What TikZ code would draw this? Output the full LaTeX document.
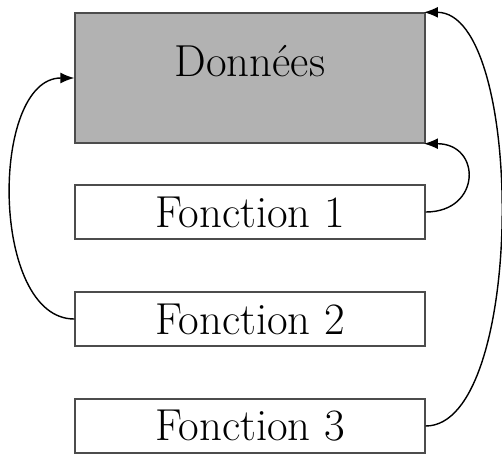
\documentclass[tikz,border=0pt]{standalone}
\usetikzlibrary{arrows.meta}

\begin{document}
\begin{tikzpicture}[
  box/.style={rectangle, draw=black!70, line width=0.8pt, minimum width=7cm, inner sep=0pt, font=\fontsize{25.5}{30}\selectfont},
  fn/.style={box, minimum height=1.08cm},
  donnees/.style={box, fill=black!30, minimum height=2.6cm, text depth=0.68cm},
  arrow/.style={-{Latex[length=2.8mm, width=2.2mm]}, line width=0.8pt},
]

\useasboundingbox (0,0) rectangle (10.04,-9.12);

% === Boxes ===
\node[donnees] (data) at (5, -1.56) {Données};
\node[fn] (f1) at (5, -4.24) {Fonction 1};
\node[fn] (f2) at (5, -6.38) {Fonction 2};
\node[fn] (f3) at (5, -8.52) {Fonction 3};

% === Return arrows ===
\draw[arrow, shorten >=-1pt] (f1.east) to[out=0, in=0, looseness=2.1] (data.south east);
\draw[arrow] (f2.west) to[out=180, in=180, looseness=0.9] (data.west);
\draw[arrow, shorten >=-1pt] (f3.east) to[out=0, in=0, looseness=0.62] (data.north east);

\end{tikzpicture}
\end{document}
